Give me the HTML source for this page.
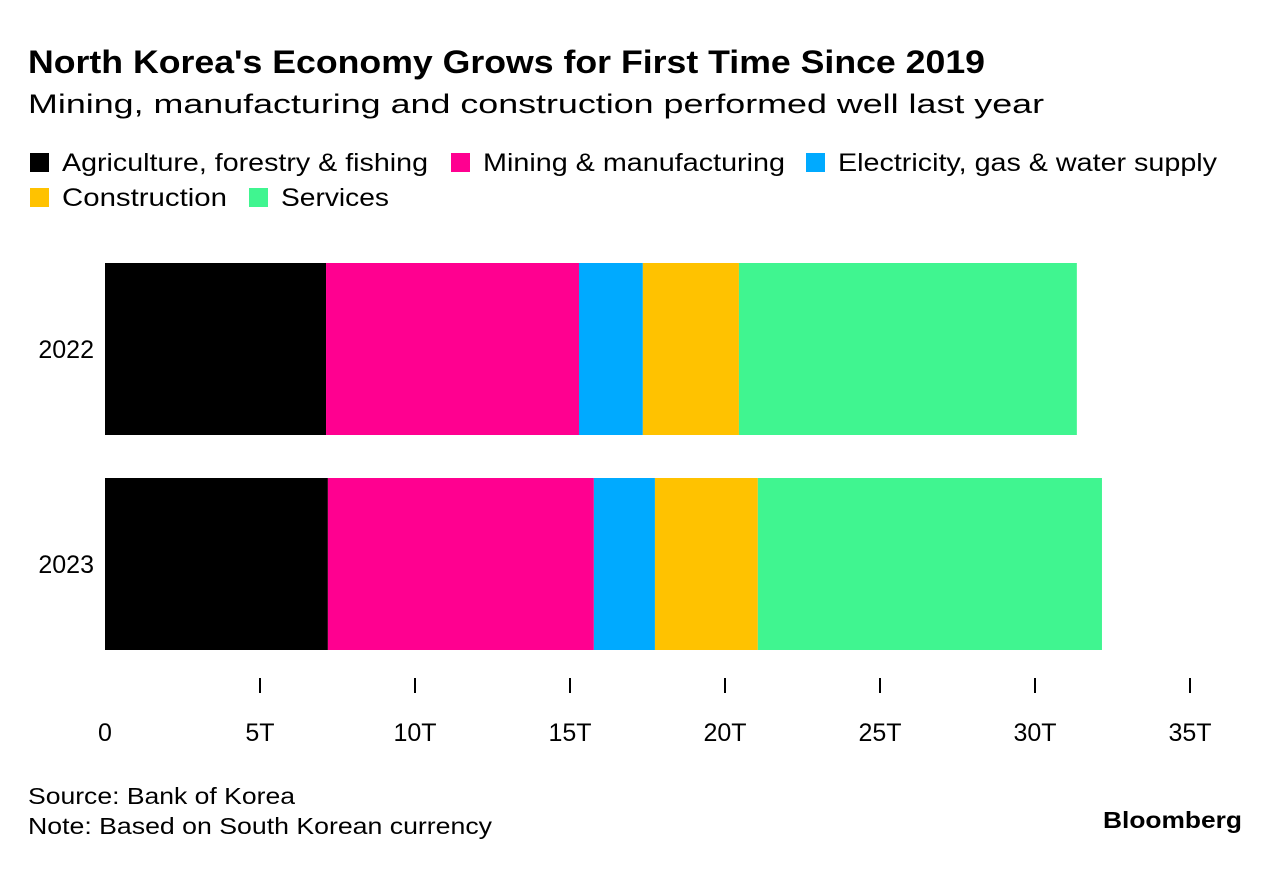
<!DOCTYPE html>
<html><head><meta charset="utf-8"><style>
body{margin:0;background:#fff;font-family:"Liberation Sans",Arial,sans-serif;}
svg text{font-family:"Liberation Sans",Arial,sans-serif;}
</style></head><body>
<svg width="1281" height="864" viewBox="0 0 1281 864">
<text x="28" y="73" font-size="32" font-weight="bold" fill="#000" textLength="957" lengthAdjust="spacingAndGlyphs">North Korea's Economy Grows for First Time Since 2019</text>
<text x="28" y="113" font-size="27" fill="#000" textLength="1016" lengthAdjust="spacingAndGlyphs">Mining, manufacturing and construction performed well last year</text>
<g id="legend"></g>
<g id="bars"></g>
<g id="axis"></g>
<text x="28" y="804" font-size="23" fill="#000" textLength="267" lengthAdjust="spacingAndGlyphs">Source: Bank of Korea</text>
<text x="28" y="834" font-size="23" fill="#000" textLength="464" lengthAdjust="spacingAndGlyphs">Note: Based on South Korean currency</text>
<text x="1103" y="828" font-size="23" font-weight="bold" fill="#000" textLength="139" lengthAdjust="spacingAndGlyphs">Bloomberg</text>
</svg>
<script>
const categories=["2022","2023"];
const seriesNames=["Agriculture, forestry & fishing","Mining & manufacturing","Electricity, gas & water supply","Construction","Services"];
const agriculture=[7.13,7.19];
const mining=[8.16,8.58];
const electricity=[2.06,1.97];
const construction=[3.10,3.32];
const services=[10.90,11.10];
const tickValues=[0,5,10,15,20,25,30,35];
const tickLabels=["0","5T","10T","15T","20T","25T","30T","35T"];
const colors=["#000000","#ff0090","#00aaff","#ffc200","#40f590"];
const series=[agriculture,mining,electricity,construction,services];
const NS="http://www.w3.org/2000/svg";
const x0=105,x1=1190,xmax=35;
const xs=v=>x0+(x1-x0)*v/xmax;
const bandTop=[263,478],barH=172;
function mk(t,a,p){const e=document.createElementNS(NS,t);for(const k in a)e.setAttribute(k,a[k]);p.appendChild(e);return e;}
const bars=document.getElementById('bars');
categories.forEach((c,i)=>{
  let cum=0;
  series.forEach((s,j)=>{
    const r=mk('rect',{x:xs(cum),y:bandTop[i],width:xs(cum+s[i])-xs(cum),height:barH,fill:colors[j]},bars);
    
    
    cum+=s[i];
  });
  const t=mk('text',{x:94,y:bandTop[i]+barH/2+9,'font-size':25,'text-anchor':'end',fill:'#000'},bars);
  t.textContent=c;
  
  
});
const ax=document.getElementById('axis');
tickValues.forEach((v,i)=>{
  if(v>0){const l=mk('line',{x1:xs(v),x2:xs(v),y1:678,y2:693,stroke:'#000','stroke-width':2},ax);
  
  }
  const t=mk('text',{x:xs(v),y:741,'font-size':25,'text-anchor':'middle',fill:'#000'},ax);
  t.textContent=tickLabels[i];
  
  
});
const lg=document.getElementById('legend');
const lpos=[[30,170],[451,170],[806,170],[30,205],[249,205]];
const lwid=[366,302,379,165,108];
seriesNames.forEach((n,i)=>{
  const g=mk('g',{},lg);
  
  
  mk('rect',{x:lpos[i][0],y:lpos[i][1]-17,width:19,height:19,fill:colors[i]},g);
  const t=mk('text',{x:lpos[i][0]+32,y:lpos[i][1]+1,'font-size':25,fill:'#000',textLength:lwid[i],lengthAdjust:'spacingAndGlyphs'},g);
  t.textContent=n;
});
</script>
</body></html>
